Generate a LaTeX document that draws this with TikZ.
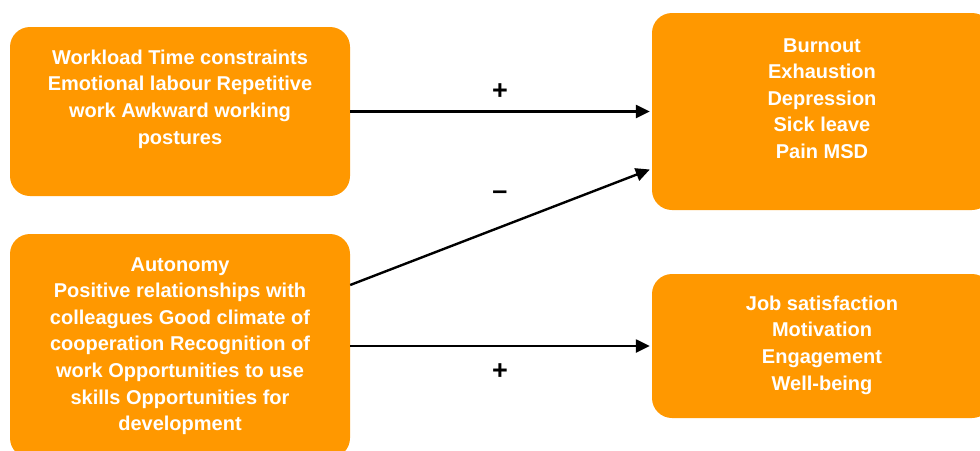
\documentclass[tikz,border=0pt]{standalone}
\usepackage{fontspec}
\setmainfont{Liberation Sans}
\usetikzlibrary{arrows.meta}
\definecolor{boxorange}{HTML}{FF9800}
\begin{document}
\begin{tikzpicture}[x=1pt,y=-1pt,
  box/.style={draw=none,fill=boxorange,rounded corners=20pt,minimum width=340pt,inner sep=0pt,anchor=center},
  txt/.style={text=white,font=\fontsize{20}{26.6}\selectfont\bfseries,align=center,inner sep=0pt},
  sign/.style={font=\fontsize{27}{30}\selectfont\bfseries,inner sep=0pt},
  arr/.style={line width=2.4pt,-{Triangle[length=14pt,width=13pt]}}]
\useasboundingbox (0,0) rectangle (980,450);
\node[box,minimum height=169pt] (box1) at (180,111.5) {};
\node[box,minimum height=224pt] (box2) at (180,346) {};
\node[box,minimum height=197pt] (box3) at (822,111.5) {};
\node[box,minimum height=144pt] (box4) at (822,346) {};
\node[txt] (t1) at (180,99) {Workload Time constraints\\Emotional labour Repetitive\\work Awkward working\\postures};
\node[txt] (t2) at (180,346) {Autonomy\\Positive relationships with\\colleagues Good climate of\\cooperation Recognition of\\work Opportunities to use\\skills Opportunities for\\development};
\node[txt] (t3) at (822,98.5) {Burnout\\Exhaustion\\Depression\\Sick leave\\Pain MSD};
\node[txt] (t4) at (822,345) {Job satisfaction\\Motivation\\Engagement\\Well-being};
\draw[arr] (box1.east) -- ([xshift=-2pt]box3.west);
\draw[arr] ([yshift=61pt]box2.east) -- ([xshift=-2pt,yshift=-58pt]box3.west);
\draw[arr] (box2.east) -- ([xshift=-2pt]box4.west);
\node[sign] (s1) at (500,92) {+};
\node[sign] (s2) at (500,195) {--};
\node[sign] (s3) at (500,372) {+};
\end{tikzpicture}
\end{document}
